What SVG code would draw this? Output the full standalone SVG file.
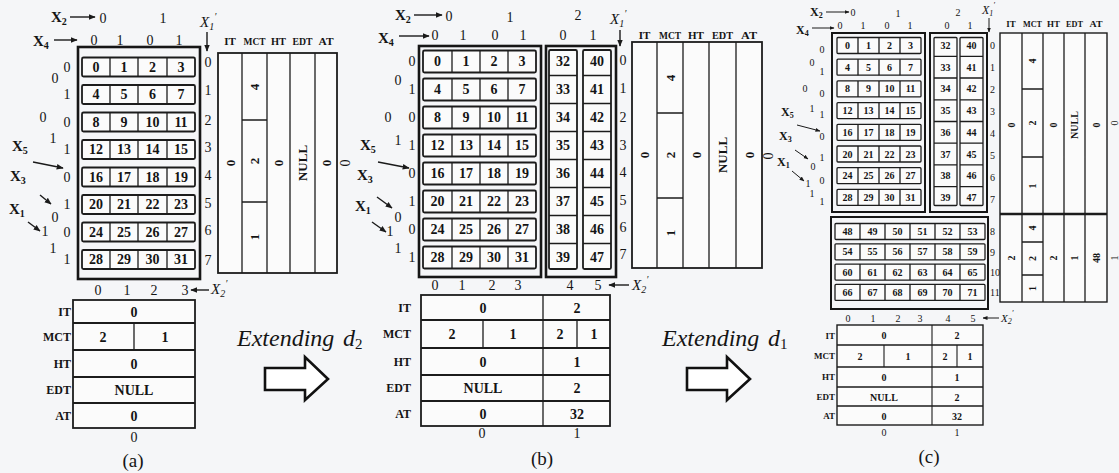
<svg xmlns="http://www.w3.org/2000/svg" width="1119" height="473" viewBox="0 0 1119 473">
<style>
text{font-family:"Liberation Serif","Times New Roman",serif;fill:#141414;dominant-baseline:central}
.m{text-anchor:middle}
.e{text-anchor:end}
.b{font-weight:bold}
.i{font-style:italic}
.f14{font-size:14px}
.f13{font-size:13px}
.f12{font-size:12px}
.f11{font-size:11px}
.f10{font-size:10px}
.f9{font-size:9px}
.f8{font-size:8px}
.xl{font-size:15px;font-weight:bold}
.xs{font-size:12px;font-weight:bold}
.ext{font-size:24px;font-style:italic}
.cap{font-size:19px}
.outer{fill:none;stroke:#161616;stroke-width:2.6}
.row{fill:#fbfbfb;stroke:#1c1c1c;stroke-width:1.8}
.rowc{fill:#fbfbfb;stroke:#1c1c1c;stroke-width:1.3}
.thin{fill:none;stroke:#1c1c1c;stroke-width:1.3}
.tb{fill:#fbfbfb;stroke:#1c1c1c;stroke-width:1.8}
.sep{fill:none;stroke:#1c1c1c;stroke-width:2}
.arr{fill:none;stroke:#1a1a1a;stroke-width:1.4;marker-end:url(#ah)}
.arrs{fill:none;stroke:#1a1a1a;stroke-width:1;marker-end:url(#ahs)}
.big{fill:#ffffff;stroke:#111;stroke-width:2.6;stroke-linejoin:miter}
</style>
<defs>
<marker id="ah" viewBox="0 0 10 10" refX="9" refY="5" markerWidth="7" markerHeight="7" markerUnits="userSpaceOnUse" orient="auto"><path d="M0,1 L10,5 L0,9 Z" fill="#1a1a1a"/></marker>
<marker id="ahs" viewBox="0 0 10 10" refX="9" refY="5" markerWidth="5" markerHeight="5" markerUnits="userSpaceOnUse" orient="auto"><path d="M0,1 L10,5 L0,9 Z" fill="#1a1a1a"/></marker>
<g id="rowA"><rect class="row" x="82" y="-9.5" width="113" height="19" rx="1.5"/><path class="thin" d="M110,-9.5v19M138,-9.5v19M167,-9.5v19"/></g>
<g id="rowB"><rect class="row" x="423" y="-11" width="113" height="22" rx="1.5"/><path class="thin" d="M452,-11v22M480,-11v22M508,-11v22"/></g>
<g id="rowC"><rect class="rowc" x="837" y="-8" width="84" height="16" rx="1"/><path class="thin" d="M858,-8v16M879,-8v16M900,-8v16"/></g>
<g id="rowC2"><rect class="rowc" x="835" y="-8" width="150" height="16" rx="1"/><path class="thin" d="M860,-8v16M885,-8v16M910,-8v16M935,-8v16M960,-8v16"/></g>
</defs>
<rect x="0" y="0" width="1119" height="473" fill="#f5f6f8"/>

<!-- ================= PANEL A ================= -->
<g id="a-matrix">
<rect class="outer" x="78" y="47" width="122" height="232"/>
<use href="#rowA" transform="translate(0,67)"/>
<use href="#rowA" transform="translate(0,94.5)"/>
<use href="#rowA" transform="translate(0,122)"/>
<use href="#rowA" transform="translate(0,149.5)"/>
<use href="#rowA" transform="translate(0,177)"/>
<use href="#rowA" transform="translate(0,204.5)"/>
<use href="#rowA" transform="translate(0,232)"/>
<use href="#rowA" transform="translate(0,259.5)"/>
<g class="b f14 m">
<text x="96" y="67">0</text><text x="124" y="67">1</text><text x="152.5" y="67">2</text><text x="181" y="67">3</text>
<text x="96" y="94.5">4</text><text x="124" y="94.5">5</text><text x="152.5" y="94.5">6</text><text x="181" y="94.5">7</text>
<text x="96" y="122">8</text><text x="124" y="122">9</text><text x="152.5" y="122">10</text><text x="181" y="122">11</text>
<text x="96" y="149.5">12</text><text x="124" y="149.5">13</text><text x="152.5" y="149.5">14</text><text x="181" y="149.5">15</text>
<text x="96" y="177">16</text><text x="124" y="177">17</text><text x="152.5" y="177">18</text><text x="181" y="177">19</text>
<text x="96" y="204.5">20</text><text x="124" y="204.5">21</text><text x="152.5" y="204.5">22</text><text x="181" y="204.5">23</text>
<text x="96" y="232">24</text><text x="124" y="232">25</text><text x="152.5" y="232">26</text><text x="181" y="232">27</text>
<text x="96" y="259.5">28</text><text x="124" y="259.5">29</text><text x="152.5" y="259.5">30</text><text x="181" y="259.5">31</text>
</g>
</g>
<g id="a-labels" class="f14 m">
<text class="xl" x="51" y="17" style="text-anchor:start">X<tspan font-size="10" dy="4">2</tspan></text>
<text x="103" y="18">0</text><text x="163" y="18">1</text>
<text class="xl" x="33" y="41" style="text-anchor:start">X<tspan font-size="10" dy="4">4</tspan></text>
<text x="94" y="40">0</text><text x="120" y="40">1</text><text x="150" y="40">0</text><text x="179" y="40">1</text>
<text class="xl i" x="200" y="22" style="text-anchor:start;font-weight:normal">X<tspan font-size="10" dy="4">1</tspan><tspan font-size="10" dy="-10">′</tspan></text>
<text x="67" y="67">0</text><text x="67" y="94.5">1</text><text x="67" y="122">0</text><text x="67" y="149.5">1</text>
<text x="67" y="177">0</text><text x="67" y="204.5">1</text><text x="67" y="232">0</text><text x="67" y="259.5">1</text>
<text x="55" y="78">0</text><text x="43" y="117">0</text><text x="53" y="138">1</text>
<text x="55" y="217">0</text><text x="45" y="231">1</text><text x="53" y="248">1</text>
<text class="xl" x="12" y="146" style="text-anchor:start">X<tspan font-size="10" dy="4">5</tspan></text>
<text class="xl" x="10" y="176" style="text-anchor:start">X<tspan font-size="10" dy="4">3</tspan></text>
<text class="xl" x="9" y="209" style="text-anchor:start">X<tspan font-size="10" dy="4">1</tspan></text>
<text x="208" y="62">0</text><text x="208" y="90">1</text><text x="208" y="120">2</text><text x="208" y="147">3</text>
<text x="208" y="175">4</text><text x="208" y="203">5</text><text x="208" y="230">6</text><text x="208" y="260">7</text>
<text x="98" y="290">0</text><text x="127" y="290">1</text><text x="154" y="290">2</text><text x="185" y="290">3</text>
<text class="xl i" x="211" y="289" style="text-anchor:start;font-weight:normal">X<tspan font-size="10" dy="4">2</tspan><tspan font-size="10" dy="-10">′</tspan></text>
</g>
<g id="a-vtable">
<rect class="tb" x="218" y="53" width="119" height="220"/>
<path class="thin" d="M242,53V273M267,53V273M290,53V273M315,53V273M242,120H267M242,202H267"/>
<g class="b f11 m">
<text x="230" y="41">IT</text><text x="254.5" y="41" textLength="22" lengthAdjust="spacingAndGlyphs">MCT</text>
<text x="278.5" y="41" textLength="15" lengthAdjust="spacingAndGlyphs">HT</text><text x="302.5" y="41" textLength="20" lengthAdjust="spacingAndGlyphs">EDT</text>
<text x="326" y="41" textLength="15" lengthAdjust="spacingAndGlyphs">AT</text>
</g>
<g class="b f13 m">
<text transform="translate(230,163) rotate(-90)">0</text>
<text transform="translate(254.5,87) rotate(-90)">4</text>
<text transform="translate(254.5,161) rotate(-90)">2</text>
<text transform="translate(254.5,237) rotate(-90)">1</text>
<text transform="translate(278.5,163) rotate(-90)">0</text>
<text transform="translate(302.5,163) rotate(-90)">NULL</text>
<text transform="translate(326,163) rotate(-90)">0</text>
</g>
<text class="f14 m" transform="translate(345,163) rotate(-90)">0</text>
</g>
<g id="a-htable">
<rect class="tb" x="73" y="300" width="122" height="128"/>
<path class="sep" d="M73,323H195M73,350H195M73,377H195M73,403H195"/>
<path class="thin" d="M134,323V350"/>
<g class="b f12 e">
<text x="71" y="312">IT</text><text x="71" y="337">MCT</text><text x="71" y="364">HT</text><text x="71" y="390">EDT</text><text x="71" y="416">AT</text>
</g>
<g class="b f14 m">
<text x="134" y="312">0</text><text x="103" y="337">2</text><text x="165" y="337">1</text>
<text x="134" y="364">0</text><text x="134" y="390">NULL</text><text x="134" y="416">0</text>
</g>
<text class="f14 m" x="134" y="437">0</text>
<text class="cap m" x="133" y="460">(a)</text>
</g>

<!-- ================= TRANSITIONS ================= -->
<g id="ext-d2">
<text class="ext" x="237" y="338">Extending</text>
<text class="ext" x="343" y="338">d</text>
<text x="355" y="344" style="font-size:15px">2</text>
<path class="big" d="M265,368H305V357L328,379L305,400V390H265Z"/>
</g>
<g id="ext-d1">
<text class="ext" x="662" y="338">Extending</text>
<text class="ext" x="768" y="338">d</text>
<text x="780" y="344" style="font-size:15px">1</text>
<path class="big" d="M687,368H727V357L750,379L727,400V390H687Z"/>
</g>

<!-- ================= PANEL B ================= -->
<g id="b-matrix">
<rect class="outer" x="419" y="46" width="122" height="231"/>
<rect class="outer" x="546" y="46" width="70" height="231"/>
<use href="#rowB" transform="translate(0,61.5)"/>
<use href="#rowB" transform="translate(0,89.5)"/>
<use href="#rowB" transform="translate(0,117.5)"/>
<use href="#rowB" transform="translate(0,145.5)"/>
<use href="#rowB" transform="translate(0,173.5)"/>
<use href="#rowB" transform="translate(0,201.5)"/>
<use href="#rowB" transform="translate(0,229.5)"/>
<use href="#rowB" transform="translate(0,257.5)"/>
<rect class="row" x="549" y="50" width="28" height="219" rx="1.5"/>
<rect class="row" x="583" y="50" width="28" height="219" rx="1.5"/>
<path class="thin" d="M549,75.5H577M549,103.5H577M549,131.5H577M549,159.5H577M549,187.5H577M549,215.5H577M549,243.5H577M583,75.5H611M583,103.5H611M583,131.5H611M583,159.5H611M583,187.5H611M583,215.5H611M583,243.5H611"/>
<g class="b f14 m">
<text x="437.5" y="61.5">0</text><text x="466" y="61.5">1</text><text x="494" y="61.5">2</text><text x="522" y="61.5">3</text><text x="563" y="61.5">32</text><text x="597" y="61.5">40</text>
<text x="437.5" y="89.5">4</text><text x="466" y="89.5">5</text><text x="494" y="89.5">6</text><text x="522" y="89.5">7</text><text x="563" y="89.5">33</text><text x="597" y="89.5">41</text>
<text x="437.5" y="117.5">8</text><text x="466" y="117.5">9</text><text x="494" y="117.5">10</text><text x="522" y="117.5">11</text><text x="563" y="117.5">34</text><text x="597" y="117.5">42</text>
<text x="437.5" y="145.5">12</text><text x="466" y="145.5">13</text><text x="494" y="145.5">14</text><text x="522" y="145.5">15</text><text x="563" y="145.5">35</text><text x="597" y="145.5">43</text>
<text x="437.5" y="173.5">16</text><text x="466" y="173.5">17</text><text x="494" y="173.5">18</text><text x="522" y="173.5">19</text><text x="563" y="173.5">36</text><text x="597" y="173.5">44</text>
<text x="437.5" y="201.5">20</text><text x="466" y="201.5">21</text><text x="494" y="201.5">22</text><text x="522" y="201.5">23</text><text x="563" y="201.5">37</text><text x="597" y="201.5">45</text>
<text x="437.5" y="229.5">24</text><text x="466" y="229.5">25</text><text x="494" y="229.5">26</text><text x="522" y="229.5">27</text><text x="563" y="229.5">38</text><text x="597" y="229.5">46</text>
<text x="437.5" y="257.5">28</text><text x="466" y="257.5">29</text><text x="494" y="257.5">30</text><text x="522" y="257.5">31</text><text x="563" y="257.5">39</text><text x="597" y="257.5">47</text>
</g>
</g>
<g id="b-labels" class="f14 m">
<text class="xl" x="395" y="15" style="text-anchor:start">X<tspan font-size="10" dy="4">2</tspan></text>
<text x="449" y="16">0</text><text x="510" y="17">1</text><text x="578" y="15">2</text>
<text class="xl" x="378" y="38" style="text-anchor:start">X<tspan font-size="10" dy="4">4</tspan></text>
<text x="435" y="35">0</text><text x="463" y="35">1</text><text x="495" y="35">0</text><text x="523" y="35">1</text><text x="563" y="35">0</text><text x="593" y="35">1</text>
<text class="xl i" x="610" y="19" style="text-anchor:start;font-weight:normal">X<tspan font-size="10" dy="4">1</tspan><tspan font-size="10" dy="-10">′</tspan></text>
<text x="412" y="61.5">0</text><text x="412" y="89.5">1</text><text x="412" y="117.5">0</text><text x="412" y="145.5">1</text>
<text x="412" y="173.5">0</text><text x="412" y="201.5">1</text><text x="412" y="229.5">0</text><text x="412" y="257.5">1</text>
<text x="398" y="80">0</text><text x="388" y="117">0</text><text x="398" y="140">1</text>
<text x="398" y="217">0</text><text x="390" y="231">1</text><text x="398" y="248">1</text>
<text class="xl" x="360" y="145" style="text-anchor:start">X<tspan font-size="10" dy="4">5</tspan></text>
<text class="xl" x="357" y="175" style="text-anchor:start">X<tspan font-size="10" dy="4">3</tspan></text>
<text class="xl" x="355" y="206" style="text-anchor:start">X<tspan font-size="10" dy="4">1</tspan></text>
<text x="623" y="60">0</text><text x="623" y="88">1</text><text x="623" y="117">2</text><text x="623" y="145">3</text>
<text x="623" y="172">4</text><text x="623" y="200">5</text><text x="623" y="227">6</text><text x="623" y="254">7</text>
<text x="435" y="285">0</text><text x="462" y="285">1</text><text x="492" y="285">2</text><text x="518" y="285">3</text><text x="570" y="285">4</text><text x="598" y="285">5</text>
<text class="xl i" x="632" y="285" style="text-anchor:start;font-weight:normal">X<tspan font-size="10" dy="4">2</tspan><tspan font-size="10" dy="-10">′</tspan></text>
</g>
<g id="b-vtable">
<rect class="tb" x="632" y="42" width="130" height="226"/>
<path class="thin" d="M657,42V268M683,42V268M709,42V268M736,42V268M657,113H683M657,198H683"/>
<g class="b f11 m">
<text x="644.5" y="35">IT</text><text x="670" y="35" textLength="22" lengthAdjust="spacingAndGlyphs">MCT</text>
<text x="696" y="35" textLength="16" lengthAdjust="spacingAndGlyphs">HT</text><text x="722.5" y="35" textLength="21" lengthAdjust="spacingAndGlyphs">EDT</text>
<text x="749" y="35" textLength="16" lengthAdjust="spacingAndGlyphs">AT</text>
</g>
<g class="b f13 m">
<text transform="translate(644.5,155) rotate(-90)">0</text>
<text transform="translate(670,78) rotate(-90)">4</text>
<text transform="translate(670,155) rotate(-90)">2</text>
<text transform="translate(670,233) rotate(-90)">1</text>
<text transform="translate(696,155) rotate(-90)">0</text>
<text transform="translate(722.5,155) rotate(-90)">NULL</text>
<text transform="translate(749,155) rotate(-90)">0</text>
</g>
<text class="f14 m" transform="translate(768,156) rotate(-90)">0</text>
</g>
<g id="b-htable">
<rect class="tb" x="421" y="295" width="189" height="131"/>
<path class="sep" d="M421,320H610M421,348H610M421,375H610M421,401H610"/>
<path class="thin" d="M543,295V426M483,320V348M577,320V348"/>
<g class="b f12 e">
<text x="411" y="308">IT</text><text x="411" y="334">MCT</text><text x="411" y="362">HT</text><text x="411" y="388">EDT</text><text x="411" y="414">AT</text>
</g>
<g class="b f14 m">
<text x="483" y="308">0</text><text x="577" y="308">2</text>
<text x="452" y="334">2</text><text x="513" y="334">1</text><text x="560" y="334">2</text><text x="594" y="334">1</text>
<text x="483" y="362">0</text><text x="577" y="362">1</text>
<text x="483" y="388">NULL</text><text x="577" y="388">2</text>
<text x="483" y="414">0</text><text x="577" y="414">32</text>
</g>
<text class="f14 m" x="482" y="433">0</text><text class="f14 m" x="577" y="433">1</text>
<text class="cap m" x="542" y="458">(b)</text>
</g>

<!-- ================= PANEL C ================= -->
<g id="c-matrix">
<rect class="outer" x="832" y="33" width="93" height="179" style="stroke-width:2"/>
<rect class="outer" x="930" y="33" width="57" height="179" style="stroke-width:2"/>
<rect class="outer" x="831" y="217" width="157" height="92" style="stroke-width:2"/>
<use href="#rowC" transform="translate(0,45.5)"/>
<use href="#rowC" transform="translate(0,67.2)"/>
<use href="#rowC" transform="translate(0,88.9)"/>
<use href="#rowC" transform="translate(0,110.6)"/>
<use href="#rowC" transform="translate(0,132.3)"/>
<use href="#rowC" transform="translate(0,154)"/>
<use href="#rowC" transform="translate(0,175.7)"/>
<use href="#rowC" transform="translate(0,197.4)"/>
<rect class="rowc" x="934" y="37.5" width="23" height="168" rx="1"/>
<rect class="rowc" x="960" y="37.5" width="23" height="168" rx="1"/>
<path class="thin" d="M934,56.4H957M934,78H957M934,99.8H957M934,121.5H957M934,143.2H957M934,164.9H957M934,186.6H957M960,56.4H983M960,78H983M960,99.8H983M960,121.5H983M960,143.2H983M960,164.9H983M960,186.6H983"/>
<use href="#rowC2" transform="translate(0,231.5)"/>
<use href="#rowC2" transform="translate(0,251.8)"/>
<use href="#rowC2" transform="translate(0,272.1)"/>
<use href="#rowC2" transform="translate(0,292.4)"/>
<g class="b f10 m">
<text x="847.5" y="45.5">0</text><text x="868.5" y="45.5">1</text><text x="889.5" y="45.5">2</text><text x="910.5" y="45.5">3</text><text x="945.5" y="45.5">32</text><text x="971.5" y="45.5">40</text>
<text x="847.5" y="67.2">4</text><text x="868.5" y="67.2">5</text><text x="889.5" y="67.2">6</text><text x="910.5" y="67.2">7</text><text x="945.5" y="67.2">33</text><text x="971.5" y="67.2">41</text>
<text x="847.5" y="88.9">8</text><text x="868.5" y="88.9">9</text><text x="889.5" y="88.9">10</text><text x="910.5" y="88.9">11</text><text x="945.5" y="88.9">34</text><text x="971.5" y="88.9">42</text>
<text x="847.5" y="110.6">12</text><text x="868.5" y="110.6">13</text><text x="889.5" y="110.6">14</text><text x="910.5" y="110.6">15</text><text x="945.5" y="110.6">35</text><text x="971.5" y="110.6">43</text>
<text x="847.5" y="132.3">16</text><text x="868.5" y="132.3">17</text><text x="889.5" y="132.3">18</text><text x="910.5" y="132.3">19</text><text x="945.5" y="132.3">36</text><text x="971.5" y="132.3">44</text>
<text x="847.5" y="154">20</text><text x="868.5" y="154">21</text><text x="889.5" y="154">22</text><text x="910.5" y="154">23</text><text x="945.5" y="154">37</text><text x="971.5" y="154">45</text>
<text x="847.5" y="175.7">24</text><text x="868.5" y="175.7">25</text><text x="889.5" y="175.7">26</text><text x="910.5" y="175.7">27</text><text x="945.5" y="175.7">38</text><text x="971.5" y="175.7">46</text>
<text x="847.5" y="197.4">28</text><text x="868.5" y="197.4">29</text><text x="889.5" y="197.4">30</text><text x="910.5" y="197.4">31</text><text x="945.5" y="197.4">39</text><text x="971.5" y="197.4">47</text>
<text x="847.5" y="231.5">48</text><text x="872.5" y="231.5">49</text><text x="897.5" y="231.5">50</text><text x="922.5" y="231.5">51</text><text x="947.5" y="231.5">52</text><text x="972.5" y="231.5">53</text>
<text x="847.5" y="251.8">54</text><text x="872.5" y="251.8">55</text><text x="897.5" y="251.8">56</text><text x="922.5" y="251.8">57</text><text x="947.5" y="251.8">58</text><text x="972.5" y="251.8">59</text>
<text x="847.5" y="272.1">60</text><text x="872.5" y="272.1">61</text><text x="897.5" y="272.1">62</text><text x="922.5" y="272.1">63</text><text x="947.5" y="272.1">64</text><text x="972.5" y="272.1">65</text>
<text x="847.5" y="292.4">66</text><text x="872.5" y="292.4">67</text><text x="897.5" y="292.4">68</text><text x="922.5" y="292.4">69</text><text x="947.5" y="292.4">70</text><text x="972.5" y="292.4">71</text>
</g>
</g>
<g id="c-labels" class="f10 m">
<text class="xs" x="810" y="12" style="text-anchor:start">X<tspan font-size="8" dy="3">2</tspan></text>
<text x="853" y="12">0</text><text x="898" y="13">1</text><text x="958" y="12">2</text>
<text class="xs" x="796" y="30" style="text-anchor:start">X<tspan font-size="8" dy="3">4</tspan></text>
<text x="840" y="25">0</text><text x="863" y="25">1</text><text x="887" y="25">0</text><text x="910" y="25">1</text><text x="947" y="25">0</text><text x="970" y="25">1</text>
<text class="xs i" x="982" y="10" style="text-anchor:start;font-weight:normal">X<tspan font-size="8" dy="3">1</tspan><tspan font-size="8" dy="-8">′</tspan></text>
<text x="822" y="49">0</text><text x="822" y="71">1</text><text x="822" y="93">0</text><text x="822" y="114">1</text>
<text x="822" y="136">0</text><text x="822" y="157">1</text><text x="822" y="180">0</text><text x="822" y="201">1</text>
<text x="812" y="62">0</text><text x="805" y="88">0</text><text x="812" y="108">1</text>
<text x="813" y="166">0</text><text x="808" y="183">1</text><text x="812" y="193">1</text>
<text class="xs" x="781" y="112" style="text-anchor:start">X<tspan font-size="8" dy="3">5</tspan></text>
<text class="xs" x="779" y="136" style="text-anchor:start">X<tspan font-size="8" dy="3">3</tspan></text>
<text class="xs" x="777" y="162" style="text-anchor:start">X<tspan font-size="8" dy="3">1</tspan></text>
<g style="text-anchor:start">
<text x="990" y="45">0</text><text x="990" y="67">1</text><text x="990" y="89">2</text><text x="990" y="111">3</text>
<text x="990" y="133">4</text><text x="990" y="155">5</text><text x="990" y="177">6</text><text x="990" y="199">7</text>
<text x="990" y="231">8</text><text x="990" y="252">9</text><text x="990" y="272">10</text><text x="990" y="292">11</text>
</g>
<text x="848" y="318">0</text><text x="873" y="318">1</text><text x="898" y="318">2</text><text x="920" y="318">3</text><text x="948" y="318">4</text><text x="973" y="318">5</text>
<text class="xs i" x="1001" y="318" style="text-anchor:start;font-weight:normal;font-size:11px">X<tspan font-size="8" dy="3">2</tspan><tspan font-size="8" dy="-8">′</tspan></text>
</g>
<g id="c-vtable">
<rect class="tb" x="1000" y="33" width="107" height="269" style="stroke-width:1.4"/>
<path class="thin" d="M1022,33V302M1043,33V302M1064,33V302M1085,33V302M1022,89H1043M1022,157H1043M1022,242H1043M1022,275H1043"/>
<path class="sep" d="M1000,214H1107" style="stroke-width:2.4"/>
<g class="b f9 m">
<text x="1011" y="24">IT</text><text x="1032.5" y="24" textLength="19" lengthAdjust="spacingAndGlyphs">MCT</text>
<text x="1053.5" y="24" textLength="13" lengthAdjust="spacingAndGlyphs">HT</text><text x="1074.5" y="24" textLength="17" lengthAdjust="spacingAndGlyphs">EDT</text>
<text x="1096" y="24" textLength="13" lengthAdjust="spacingAndGlyphs">AT</text>
</g>
<g class="b f10 m">
<text transform="translate(1011,125) rotate(-90)">0</text>
<text transform="translate(1032.5,61) rotate(-90)">4</text>
<text transform="translate(1032.5,123) rotate(-90)">2</text>
<text transform="translate(1032.5,186) rotate(-90)">1</text>
<text transform="translate(1053.5,125) rotate(-90)">0</text>
<text transform="translate(1074.5,125) rotate(-90)">NULL</text>
<text transform="translate(1096,125) rotate(-90)">0</text>
<text transform="translate(1011,258) rotate(-90)">2</text>
<text transform="translate(1032.5,228) rotate(-90)">4</text>
<text transform="translate(1032.5,258.5) rotate(-90)">2</text>
<text transform="translate(1032.5,288.5) rotate(-90)">1</text>
<text transform="translate(1053.5,258) rotate(-90)">2</text>
<text transform="translate(1074.5,258) rotate(-90)">1</text>
<text transform="translate(1096,258) rotate(-90)">48</text>
</g>
<text class="f10 m" transform="translate(1114,123) rotate(-90)">0</text>
<text class="f10 m" transform="translate(1114,258) rotate(-90)">1</text>
</g>
<g id="c-htable">
<rect class="tb" x="837" y="325" width="146" height="100" style="stroke-width:1.4"/>
<path class="sep" d="M837,345H983M837,367H983M837,387H983M837,406H983" style="stroke-width:1.5"/>
<path class="thin" d="M932,325V425M884,345V367M957,345V367" style="stroke-width:1.1"/>
<g class="b f9 e">
<text x="835" y="336">IT</text><text x="835" y="356">MCT</text><text x="835" y="377">HT</text><text x="835" y="397">EDT</text><text x="835" y="416">AT</text>
</g>
<g class="b f10 m">
<text x="884" y="335">0</text><text x="957" y="335">2</text>
<text x="860" y="356">2</text><text x="908" y="356">1</text><text x="945" y="356">2</text><text x="970" y="356">1</text>
<text x="884" y="377">0</text><text x="957" y="377">1</text>
<text x="884" y="397">NULL</text><text x="957" y="397">2</text>
<text x="884" y="416">0</text><text x="957" y="416">32</text>
</g>
<text class="f10 m" x="884" y="432">0</text><text class="f10 m" x="957" y="432">1</text>
<text class="cap m" x="929" y="456">(c)</text>
</g>

<!-- ================= CONNECTORS (label arrows) ================= -->
<g id="connectors">
<path class="arr" d="M70,17H95"/>
<path class="arr" d="M54,40H77"/>
<path class="arr" d="M207,32V51"/>
<path class="arr" d="M33,162L63,168"/>
<path class="arr" d="M40,195L51,204"/>
<path class="arr" d="M28,222L40,231"/>
<path class="arr" d="M209,290H191"/>
<path class="arr" d="M414,15H442"/>
<path class="arr" d="M399,36H429"/>
<path class="arr" d="M620,30V46"/>
<path class="arr" d="M378,162L409,168"/>
<path class="arr" d="M377,197L392,208"/>
<path class="arr" d="M372,222L386,232"/>
<path class="arr" d="M629,285H609"/>
<path class="arrs" d="M826,12H849"/>
<path class="arrs" d="M812,28H834"/>
<path class="arrs" d="M989,18V32"/>
<path class="arrs" d="M797,125L820,131"/>
<path class="arrs" d="M795,150L808,159"/>
<path class="arrs" d="M792,171L804,181"/>
<path class="arrs" d="M999,318H983"/>
</g>
</svg>
